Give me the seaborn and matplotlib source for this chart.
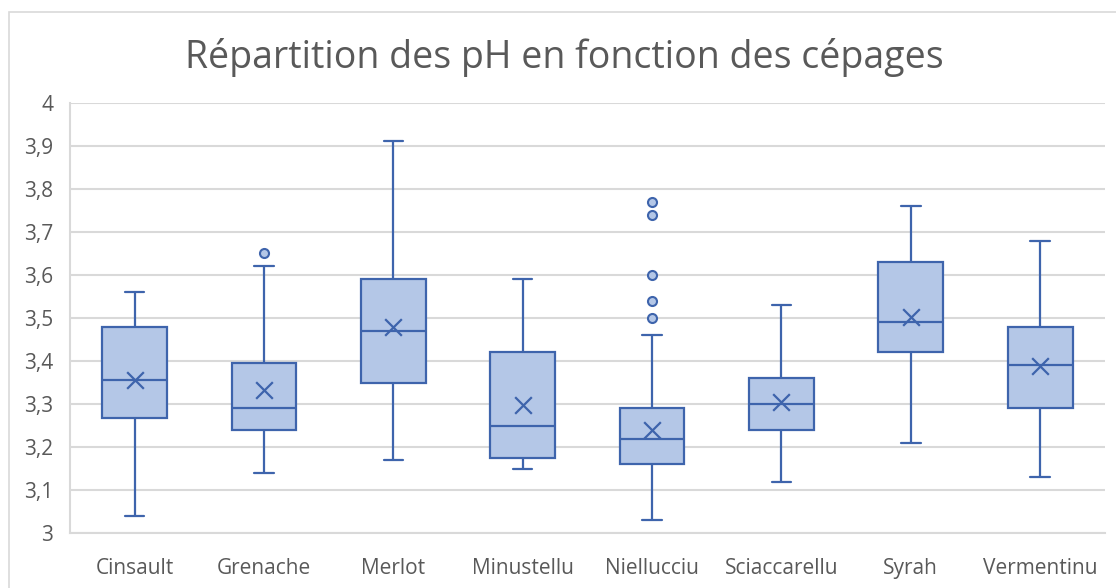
import numpy as np
import pandas as pd
import seaborn as sns
import matplotlib.pyplot as plt
from matplotlib.patches import Rectangle

## Data: =========================================================================
cepages   = ["Cinsault", "Grenache", "Merlot", "Minustellu",
             "Niellucciu", "Sciaccarellu", "Syrah", "Vermentinu"]
ph_min    = [3.04, 3.14, 3.17, 3.15, 3.03, 3.12, 3.21, 3.13]
ph_q1     = [3.268, 3.24, 3.35, 3.175, 3.16, 3.24, 3.42, 3.29]
ph_median = [3.355, 3.29, 3.47, 3.25, 3.22, 3.30, 3.49, 3.39]
ph_q3     = [3.48, 3.395, 3.59, 3.42, 3.29, 3.36, 3.63, 3.48]
ph_max    = [3.56, 3.62, 3.91, 3.59, 3.46, 3.53, 3.76, 3.68]
ph_mean   = [3.357, 3.333, 3.48, 3.298, 3.24, 3.306, 3.503, 3.388]

outlier_cepage = ["Grenache", "Niellucciu", "Niellucciu", "Niellucciu", "Niellucciu", "Niellucciu"]
outlier_ph     = [3.65, 3.77, 3.74, 3.60, 3.54, 3.50]

y_ticks       = [3.0, 3.1, 3.2, 3.3, 3.4, 3.5, 3.6, 3.7, 3.8, 3.9, 4.0]
y_tick_labels = ["3", "3,1", "3,2", "3,3", "3,4", "3,5", "3,6", "3,7", "3,8", "3,9", "4"]

title = "Répartition des pH en fonction des cépages"

## Styles: -----------------------------------------------------------------------
fill_col = "#B4C7E7"
edge_col = "#3E64AC"
grid_col = "#D9D9D9"
text_col = "#595959"

# five-number summary per category -> whiskers at min / max with whis=(0, 100)
rows = []
for i, c in enumerate(cepages):
    for v in (ph_min[i], ph_q1[i], ph_median[i], ph_q3[i], ph_max[i]):
        rows.append({"cepage": c, "ph": v})
df = pd.DataFrame(rows)

sns.set_theme(style="white")
plt.rcParams["font.family"] = ["Open Sans", "DejaVu Sans"]

fig = plt.figure(figsize=(11.16, 5.88), dpi=100)
ax = fig.add_axes([0.0627, 0.093, 0.9273, 0.7323])

ax.set_axisbelow(True)
ax.yaxis.grid(True, color=grid_col, linewidth=1.5)

sns.boxplot(data=df, x="cepage", y="ph", order=cepages, whis=(0, 100),
            width=0.5, color=fill_col, saturation=1, linecolor=edge_col,
            linewidth=1.6, showfliers=False, capwidths=0.15, ax=ax)

sns.stripplot(x=outlier_cepage, y=outlier_ph, order=cepages, jitter=False,
              size=6.5, color=fill_col, edgecolor=edge_col, linewidth=1.5, ax=ax)

sns.stripplot(x=cepages, y=ph_mean, order=cepages, jitter=False, marker="x",
              size=12, color=edge_col, linewidth=1.6, ax=ax)

ax.set_xlim(-0.5, len(cepages) - 0.5)
ax.set_ylim(3.0, 4.0)
ax.set_yticks(y_ticks)
ax.set_yticklabels(y_tick_labels)
ax.set_xlabel("")
ax.set_ylabel("")
ax.tick_params(axis="both", length=0, labelsize=15, labelcolor=text_col)
ax.tick_params(axis="y", pad=12)
ax.tick_params(axis="x", pad=18)

for side in ["top", "right"]:
    ax.spines[side].set_visible(False)
for side in ["left", "bottom"]:
    ax.spines[side].set_color(grid_col)
    ax.spines[side].set_linewidth(1.5)

fig.text(0.506, 0.903, title, ha="center", va="center", fontsize=27, color=text_col)

# chart area border (cropped at the right and bottom)
fig.patches.append(Rectangle((9 / 1116, -0.1), 1.2, 1.1 - 12 / 588,
                             transform=fig.transFigure, fill=False,
                             edgecolor=grid_col, linewidth=1.2))

plt.savefig("out.png", dpi=100)
plt.close()
